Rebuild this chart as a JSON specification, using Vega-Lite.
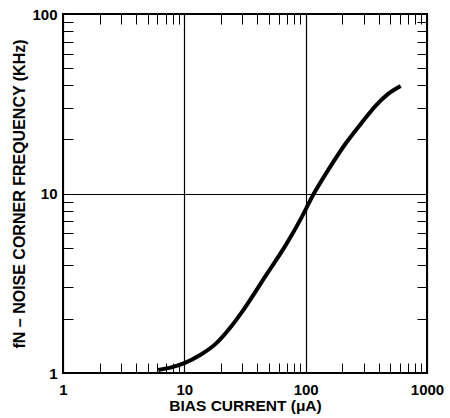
{
  "$schema": "https://vega.github.io/schema/vega-lite/v6.json",
  "width": 364,
  "height": 359,
  "autosize": {"type": "none"},
  "padding": {"left": 63, "top": 14, "right": 23, "bottom": 45},
  "background": "white",
  "config": {
    "view": {"stroke": "black", "strokeWidth": 2},
    "font": "Liberation Sans"
  },
  "data": {"values": [
    {"current": 6.1, "freq": 1.04},
    {"current": 7.94, "freq": 1.079},
    {"current": 10, "freq": 1.135},
    {"current": 13.5, "freq": 1.259},
    {"current": 18.3, "freq": 1.462},
    {"current": 23.4, "freq": 1.758},
    {"current": 30.2, "freq": 2.213},
    {"current": 47.2, "freq": 3.508},
    {"current": 68.9, "freq": 5.188},
    {"current": 91.4, "freq": 7.244},
    {"current": 114.8, "freq": 9.77},
    {"current": 156.3, "freq": 13.8},
    {"current": 214.3, "freq": 19.05},
    {"current": 293.8, "freq": 25.1},
    {"current": 378.4, "freq": 30.9},
    {"current": 478.6, "freq": 35.9},
    {"current": 606.7, "freq": 39.7}
  ]},
  "layer": [
    {
      "mark": {"type": "line", "color": "black", "strokeWidth": 4, "interpolate": "monotone"},
      "encoding": {
        "x": {"field": "current", "type": "quantitative",
          "scale": {"type": "log", "domain": [1, 1000], "nice": false},
          "axis": {"orient": "bottom", "values": [1, 10, 100, 1000], "format": "d",
            "grid": true, "gridColor": "black", "gridOpacity": 1, "gridWidth": 1.2,
            "ticks": false, "domain": false, "labelPadding": 9,
            "labelFont": "Liberation Sans", "labelFontWeight": "bold", "labelFontSize": 15, "labelColor": "black",
            "labelFlush": false, "labelOverlap": false,
            "title": "BIAS CURRENT (μA)", "titleFont": "Liberation Sans", "titleFontWeight": "bold",
            "titleFontSize": 15.5, "titleColor": "black", "titlePadding": 1}},
        "y": {"field": "freq", "type": "quantitative",
          "scale": {"type": "log", "domain": [1, 100], "nice": false},
          "axis": {"orient": "left", "values": [1, 10, 100], "format": "d",
            "grid": true, "gridColor": "black", "gridOpacity": 1, "gridWidth": 1.2,
            "ticks": false, "domain": false, "labelPadding": 6,
            "labelFont": "Liberation Sans", "labelFontWeight": "bold", "labelFontSize": 15, "labelColor": "black",
            "labelFlush": false, "labelOverlap": false,
            "title": "fN – NOISE CORNER FREQUENCY (KHz)", "titleFont": "Liberation Sans", "titleFontWeight": "bold",
            "titleFontSize": 16, "titleColor": "black", "titlePadding": 4}}
      }
    },
    {
      "mark": {"type": "line", "strokeOpacity": 0},
      "encoding": {
        "x": {"field": "current", "type": "quantitative",
          "axis": {"orient": "bottom", "values": [2,3,4,5,6,7,8,9,20,30,40,50,60,70,80,90,200,300,400,500,600,700,800,900],
            "tickSize": -10, "tickColor": "black", "tickWidth": 1, "labels": false, "grid": false, "domain": false, "title": null}},
        "y": {"field": "freq", "type": "quantitative",
          "axis": {"orient": "left", "values": [2,3,4,5,6,7,8,9,20,30,40,50,60,70,80,90],
            "tickSize": -10, "tickColor": "black", "tickWidth": 1, "labels": false, "grid": false, "domain": false, "title": null}}
      }
    },
    {
      "mark": {"type": "line", "strokeOpacity": 0},
      "encoding": {
        "x": {"field": "current", "type": "quantitative",
          "axis": {"orient": "top", "values": [2,3,4,5,6,7,8,9,20,30,40,50,60,70,80,90,200,300,400,500,600,700,800,900],
            "tickSize": -10, "tickColor": "black", "tickWidth": 1, "labels": false, "grid": false, "domain": false, "title": null}},
        "y": {"field": "freq", "type": "quantitative",
          "axis": {"orient": "right", "values": [2,3,4,5,6,7,8,9,20,30,40,50,60,70,80,90],
            "tickSize": -10, "tickColor": "black", "tickWidth": 1, "labels": false, "grid": false, "domain": false, "title": null}}
      }
    }
  ],
  "resolve": {"axis": {"x": "independent", "y": "independent"}}
}
